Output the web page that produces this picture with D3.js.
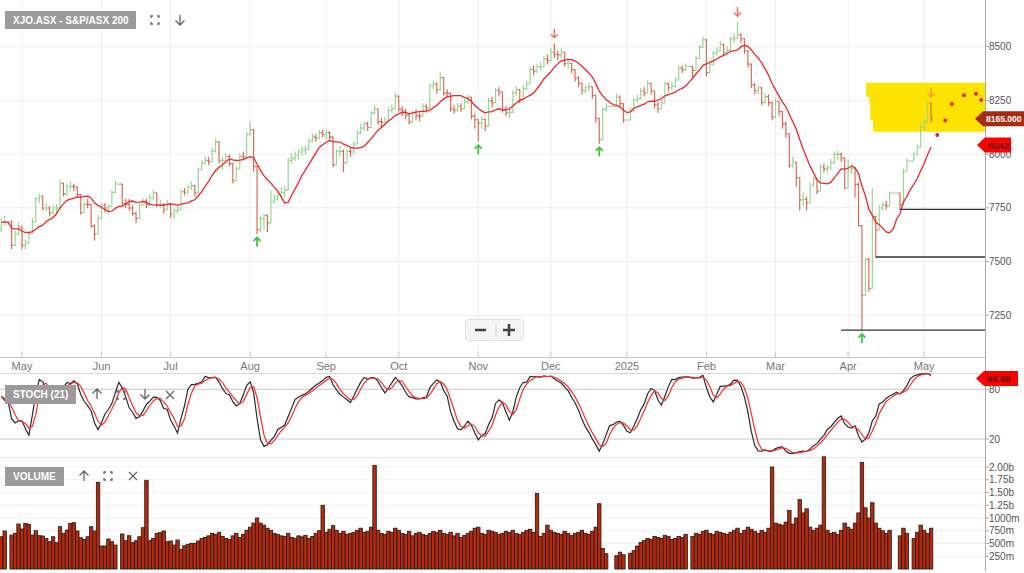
<!DOCTYPE html>
<html><head><meta charset="utf-8">
<script src="https://cdn.jsdelivr.net/npm/d3@7"></script>
<style>
body{margin:0;background:#fff;}
svg{display:block;font-family:"Liberation Sans",Arial,sans-serif;}
</style></head>
<body><svg id="c" width="1024" height="573"></svg>
<script>
// ---------- DATA ----------
const startDate = "2024-04-23", endDate = "2025-05-05";   // weekday slots (holidays shown flat)
const title = "XJO.ASX - S&P/ASX 200";
const close = [
7683,7683,7683,7575,7630,7664,
7575,7587,7629,7684,7793,7804,7749,7749,7726,7750,7750,7864,7814,7848,7851,7847,7812,7728,7766,7765,7665,7628,7702,
7762,7749,7756,7822,7860,7860,7770,7765,7749,7723,7701,7763,7781,7765,7796,7820,7764,7765,7740,7768,
7721,7736,7742,7825,7823,7847,7853,7820,7927,7959,7971,7965,8013,8057,7971,7971,7989,7956,7877,7932,7990,7988,8092,
8114,7943,7649,7700,7715,7680,7780,7792,7811,7822,7832,7971,7980,7996,8010,8018,8023,8060,8080,8075,8100,8092,
8100,8080,7950,8013,8013,7960,8012,8010,8047,8099,8121,8141,8124,8193,8210,8151,8147,8152,8203,8212,8270,
8209,8202,8181,8150,8193,8178,8177,8223,8214,8318,8327,8300,8356,8284,8283,8211,8206,8223,8211,8243,8265,8177,8160,
8144,8161,8130,8248,8240,8296,8289,8206,8192,8193,8285,8300,8253,8306,8327,8394,8386,8406,8407,8444,8436,
8474,8465,8462,8474,8421,8423,8393,8353,8330,8296,8309,8314,8274,8167,8067,8208,8223,8223,8223,8266,8235,8159,
8159,8201,8250,8257,8294,8285,8329,8294,8230,8210,8238,8327,8309,8315,8345,8400,8392,8408,8408,8390,8445,8497,8532,
8379,8416,8470,8480,8511,8474,8482,8536,8540,8555,8537,8481,8419,8322,8296,8308,8240,8268,8240,8172,
8245,8198,8141,8095,7948,7962,7890,7787,7789,7774,7855,7885,7828,7940,7930,7936,7959,7999,7999,7982,7843,
7925,7935,7859,7667,7343,7510,7375,7710,7646,7749,7762,7758,7819,7819,7819,7765,7920,7968,7968,7997,8031,8126,
8150,8238,8165];
const high = [
7700,7710,7683,7690,7640,7680,
7660,7600,7640,7700,7800,7815,7805,7775,7755,7760,7765,7880,7866,7860,7870,7860,7848,7812,7775,7790,7765,7670,7715,
7770,7770,7765,7830,7875,7860,7860,7790,7790,7760,7730,7770,7795,7790,7810,7830,7820,7785,7770,7785,
7770,7745,7760,7835,7840,7855,7870,7855,7935,7970,7990,7985,8025,8070,8057,7985,8000,7995,7956,7940,8000,8010,8100,
8150,8114,7943,7710,7720,7715,7830,7810,7825,7845,7850,7980,8000,8010,8020,8035,8035,8070,8095,8090,8110,8112,
8112,8104,8080,8020,8035,8019,8020,8030,8055,8110,8140,8150,8150,8200,8225,8210,8165,8170,8215,8230,8285,
8270,8220,8210,8185,8200,8205,8190,8235,8230,8325,8340,8330,8380,8356,8300,8283,8225,8235,8235,8255,8275,8265,8185,
8160,8175,8165,8260,8265,8305,8310,8289,8220,8215,8295,8315,8300,8320,8340,8405,8410,8420,8425,8455,8460,
8490,8514,8480,8490,8474,8440,8423,8393,8360,8330,8320,8330,8314,8274,8167,8215,8235,8223,8223,8280,8270,8235,
8159,8215,8260,8275,8305,8310,8340,8329,8294,8240,8250,8335,8330,8335,8355,8410,8410,8420,8408,8408,8455,8505,8545,
8532,8425,8480,8495,8525,8511,8500,8545,8560,8615,8560,8537,8481,8419,8330,8320,8308,8280,8275,8240,
8255,8245,8198,8150,8095,7985,7962,7890,7820,7800,7865,7895,7885,7950,7955,7950,7975,8010,8015,8005,7982,
7973,7950,7935,7865,7667,7515,7515,7840,7710,7760,7775,7780,7825,7819,7819,7819,7930,7980,7968,8010,8045,8135,
8165,8245,8238];
const low = [
7640,7670,7683,7560,7575,7625,
7560,7560,7585,7630,7684,7775,7740,7735,7715,7720,7725,7750,7805,7810,7835,7830,7800,7720,7728,7750,7660,7600,7628,
7702,7730,7725,7756,7820,7860,7760,7750,7740,7715,7680,7701,7760,7750,7760,7790,7755,7750,7725,7740,
7705,7700,7725,7742,7810,7815,7835,7805,7820,7925,7950,7950,7965,8010,7960,7930,7965,7945,7865,7877,7932,7975,7988,
8090,7920,7630,7640,7650,7640,7680,7770,7785,7800,7800,7832,7960,7970,7980,7995,8000,8023,8055,8060,8070,8080,
8070,8060,7941,7950,7990,7918,7960,7990,8000,8047,8095,8110,8110,8124,8185,8140,8125,8135,8150,8195,8212,
8200,8180,8165,8140,8150,8160,8155,8177,8195,8214,8305,8285,8300,8275,8265,8200,8190,8200,8200,8211,8235,8165,8120,
8060,8120,8110,8130,8220,8240,8270,8195,8180,8170,8193,8270,8240,8253,8300,8327,8370,8380,8390,8407,8420,
8436,8450,8440,8450,8410,8400,8380,8340,8315,8280,8285,8295,8260,8150,8050,8067,8200,8223,8223,8223,8225,8150,
8159,8159,8200,8240,8257,8270,8285,8280,8215,8195,8210,8238,8295,8300,8315,8345,8380,8390,8408,8360,8390,8445,8497,
8365,8379,8416,8460,8480,8460,8460,8482,8520,8540,8520,8470,8405,8310,8280,8280,8230,8240,8225,8160,
8172,8180,8120,8080,7940,7935,7850,7740,7760,7740,7774,7850,7815,7828,7915,7915,7930,7959,7975,7965,7840,
7843,7910,7800,7665,7181,7343,7360,7376,7521,7646,7740,7745,7758,7819,7819,7743,7765,7920,7968,7968,7997,8031,
8110,8150,8150];
const volume = [
633,745,0,666,700,882,
784,895,876,666,751,653,647,601,535,633,516,829,700,764,895,908,745,614,581,633,829,745,1700,
451,451,588,535,470,0,686,555,653,522,555,633,810,1740,555,601,700,712,745,535,
549,470,568,385,457,483,503,503,549,600,620,650,700,680,720,640,600,580,650,700,620,680,760,
820,900,1000,900,860,800,760,700,680,650,640,700,620,600,650,630,660,600,640,700,750,1250,
720,780,850,760,700,740,680,700,720,760,800,720,740,820,2030,760,700,680,740,720,800,
760,700,680,740,650,700,720,680,660,700,740,720,760,700,680,720,650,700,620,660,700,740,800,
820,700,680,760,740,720,680,700,740,720,760,700,680,720,760,780,720,1480,640,700,860,
760,720,700,680,740,700,660,700,720,760,700,680,740,820,1280,400,300,0,0,260,330,280,
0,310,360,450,520,560,600,580,640,620,600,660,640,580,600,640,620,680,0,640,700,680,740,
760,700,680,740,720,700,680,720,760,800,700,760,820,780,740,700,760,720,800,2000,
900,880,860,920,1150,880,1000,1360,1100,1180,820,760,800,860,2200,760,700,720,680,760,900,
820,780,900,1100,2090,1200,1000,1300,900,800,750,700,760,0,0,650,800,700,0,600,720,860,
760,700,800];
const priceTicks = [7250, 7500, 7750, 8000, 8250, 8500];
const stochTicks = [20, 80];
const volumeTicks = [250, 500, 750, 1000, 1250, 1500, 1750, 2000];
const maPeriod = 10, stochPeriod = 21;
const upMarks = ["2024-08-05", "2024-11-01", "2024-12-20", "2025-04-07"];
const downMarks = ["2024-12-03", "2025-02-14", "2025-05-05"];
const supportStart = ["2025-03-28", "2025-04-11", "2025-04-22"];
const supportValue = [7181, 7521, 7743];
const forecastOffset = [1.8, 4.1, 6.0, 9.5, 13.0, 14.5];
const forecastValue = [8089, 8156, 8233, 8274, 8281, 8252];
const zoneLeft = [250.2, 251.2, 251.4, 252.2];
const zoneLevels = [8332, 8267, 8238, 8159, 8104];
const tagValues = [8165, 8042], tagLabels = ["8165.000", "8042"];
const stochTagValue = 98.88, stochTagLabel = "98.88";

// ---------- SETUP ----------
const parse = d3.utcParse("%Y-%m-%d"), fmt = d3.utcFormat("%Y-%m-%d");
const dates = [];
for (let d = parse(startDate); d <= parse(endDate); d = d3.utcDay.offset(d, 1)) {
  const w = d.getUTCDay(); if (w > 0 && w < 6) dates.push(d);
}
const idxOf = s => dates.findIndex(d => fmt(d) === s);
const n = dates.length;
const open = close.map((c, i) => i === 0 ? 7650 : close[i - 1]);

const svg = d3.select("#c");
const plotR = 985;
const x = d3.scaleLinear().domain([-0.365, 284.6]).range([0, plotR]);
const y = d3.scaleLinear().domain([7055.5, 8717.4]).range([357, 0]);
const yS = d3.scaleLinear().domain([0, 100]).range([455.6, 372.7]);
const yV = d3.scaleLinear().domain([0, 2000]).range([569, 467]);
const step = x(1) - x(0);

const sma = (a, p) => a.map((_, i) => d3.mean(a.slice(Math.max(0, i - p + 1), i + 1)));
const ma = sma(close, maPeriod);
const fastK = close.map((c, i) => {
  const s = Math.max(0, i - stochPeriod + 1);
  const hh = d3.max(high.slice(s, i + 1)), ll = d3.min(low.slice(s, i + 1));
  return hh === ll ? 50 : 100 * (c - ll) / (hh - ll);
});
const kLine = sma(fastK, 3), dLine = sma(kLine, 3);

const monthTicks = [];
dates.forEach((d, i) => { if (i > 0 && d.getUTCMonth() !== dates[i - 1].getUTCMonth()) monthTicks.push(i); });
const monthLabel = i => dates[i].getUTCMonth() === 0 ? d3.utcFormat("%Y")(dates[i]) : d3.utcFormat("%b")(dates[i]);

const defs = svg.append("defs");
defs.append("clipPath").attr("id", "mainClip").append("rect").attr("x", 0).attr("y", 0).attr("width", plotR).attr("height", 357);

// ---------- GRID ----------
const grid = svg.append("g");
grid.selectAll(".vg").data(monthTicks).join("line")
  .attr("x1", d => x(d)).attr("x2", d => x(d)).attr("y1", 0).attr("y2", 357)
  .attr("stroke", "#ededed").attr("stroke-width", 1);
grid.selectAll(".hg").data(priceTicks).join("line")
  .attr("x1", 0).attr("x2", plotR).attr("y1", d => y(d)).attr("y2", d => y(d))
  .attr("stroke", "#ededed");
grid.selectAll(".sg").data(stochTicks).join("line")
  .attr("x1", 0).attr("x2", plotR).attr("y1", d => yS(d)).attr("y2", d => yS(d))
  .attr("stroke", "#c8c8c8");
grid.selectAll(".vog").data(volumeTicks).join("line")
  .attr("x1", 0).attr("x2", plotR).attr("y1", d => yV(d)).attr("y2", d => yV(d))
  .attr("stroke", "#f0f0f0");

svg.append("line").attr("x1", 0).attr("x2", plotR).attr("y1", 357.5).attr("y2", 357.5).attr("stroke", "#c8c8c8");
svg.append("line").attr("x1", 0).attr("x2", plotR).attr("y1", 373.5).attr("y2", 373.5).attr("stroke", "#d8d8d8");
svg.append("line").attr("x1", 0).attr("x2", plotR).attr("y1", 457.5).attr("y2", 457.5).attr("stroke", "#e4e4e4");
svg.append("line").attr("x1", plotR + 0.5).attr("x2", plotR + 0.5).attr("y1", 0).attr("y2", 571).attr("stroke", "#aaa");

// ---------- MAIN PANEL ----------
const main = svg.append("g").attr("clip-path", "url(#mainClip)");

const xr = x.domain()[1] + 1;
const zonePts = [
  [zoneLeft[0], zoneLevels[0]], [xr, zoneLevels[0]], [xr, zoneLevels[4]],
  [zoneLeft[3], zoneLevels[4]], [zoneLeft[3], zoneLevels[3]], [zoneLeft[2], zoneLevels[3]],
  [zoneLeft[2], zoneLevels[2]], [zoneLeft[1], zoneLevels[2]], [zoneLeft[1], zoneLevels[1]],
  [zoneLeft[0], zoneLevels[1]]];
main.append("path").attr("d", d3.line().x(d => x(d[0])).y(d => y(d[1]))(zonePts) + "Z")
  .attr("fill", "#ffe300");

const bars = d3.range(n);
main.append("g").selectAll("path").data(bars).join("path")
  .attr("d", i => {
    const cx = x(i);
    return `M${cx},${y(high[i]) - 0.5}V${y(low[i]) + 0.5}M${cx - 1.7},${y(open[i])}H${cx}M${cx},${y(close[i])}H${cx + 1.7}`;
  })
  .attr("fill", "none")
  .attr("stroke", i => close[i] >= open[i] ? "#97d48f" : "#d9674f")
  .attr("stroke-width", 1.15);

main.append("path").datum(ma)
  .attr("d", d3.line().x((d, i) => x(i)).y(d => y(d)))
  .attr("fill", "none").attr("stroke", "#f2262a").attr("stroke-width", 1.3);

supportStart.forEach((s, k) => {
  main.append("line").attr("x1", x(idxOf(s))).attr("x2", plotR)
    .attr("y1", y(supportValue[k])).attr("y2", y(supportValue[k]))
    .attr("stroke", "#333").attr("stroke-width", 1.3);
});

main.selectAll(".fd").data(forecastValue).join("circle")
  .attr("cx", (d, k) => x(n - 1 + forecastOffset[k])).attr("cy", d => y(d)).attr("r", 2)
  .attr("fill", "#e8261a");

upMarks.forEach(s => {
  const i = idxOf(s), cx = x(i), ty = y(low[i]) + 4;
  main.append("path").attr("d", `M${cx},${ty}V${ty + 9}M${cx - 3.5},${ty + 3.5}L${cx},${ty}L${cx + 3.5},${ty + 3.5}`)
    .attr("fill", "none").attr("stroke", "#3ec73e").attr("stroke-width", 1.8);
});
main.append("path").attr("d", (() => { const cx = x(-1.6), ty = y(7540); return `M${cx},${ty}V${ty + 9}M${cx - 3.5},${ty + 3.5}L${cx},${ty}L${cx + 3.5},${ty + 3.5}`; })())
  .attr("fill", "none").attr("stroke", "#3ec73e").attr("stroke-width", 1.8);
downMarks.forEach(s => {
  const i = idxOf(s), cx = x(i), by = y(high[i]) - 6;
  main.append("path").attr("d", `M${cx},${by}V${by - 9}M${cx - 3.5},${by - 3.5}L${cx},${by}L${cx + 3.5},${by - 3.5}`)
    .attr("fill", "none").attr("stroke", i === n - 1 ? "#f29a4a" : "#ef7b6c").attr("stroke-width", 1.6);
});

svg.append("g").selectAll("text").data(monthTicks).join("text")
  .attr("x", d => x(d)).attr("y", 370).attr("text-anchor", "middle")
  .attr("font-size", 11).attr("fill", "#777").text(d => monthLabel(d));
svg.append("g").selectAll("line").data(monthTicks).join("line")
  .attr("x1", d => x(d)).attr("x2", d => x(d)).attr("y1", 352).attr("y2", 357)
  .attr("stroke", "#c8c8c8");

function rightAxis(ticks, sc, f) {
  const g = svg.append("g");
  g.selectAll("line").data(ticks).join("line")
    .attr("x1", plotR).attr("x2", plotR + 4).attr("y1", d => sc(d)).attr("y2", d => sc(d)).attr("stroke", "#aaa");
  g.selectAll("text").data(ticks).join("text")
    .attr("x", plotR + 4).attr("y", d => sc(d)).attr("dy", "0.35em")
    .attr("font-size", 10).attr("fill", "#555").text(f);
}
rightAxis(priceTicks, y, d => d);
rightAxis(stochTicks, yS, d => d);
rightAxis(volumeTicks, yV, d => d >= 1250 ? (d / 1000).toFixed(2) + "b" : d + "m");

// ---------- STOCH PANEL ----------
const sl = d3.line().x((d, i) => x(i)).y(d => yS(d));
svg.append("path").datum(kLine).attr("d", sl).attr("fill", "none").attr("stroke", "#2a2a2a").attr("stroke-width", 1.2);
svg.append("path").datum(dLine).attr("d", sl).attr("fill", "none").attr("stroke", "#ff2a2a").attr("stroke-width", 1.2);

// ---------- VOLUME PANEL ----------
svg.append("g").selectAll("rect").data(bars.filter(i => volume[i] > 0)).join("rect")
  .attr("x", i => x(i) - step / 2).attr("width", step)
  .attr("y", i => yV(volume[i])).attr("height", i => yV(0) - yV(volume[i]))
  .attr("fill", "#b8290b").attr("stroke", "#1c1c1c").attr("stroke-width", 0.8);

// ---------- TAGS ----------
function tag(cy, label, fill, color, tipX, right, bold, fs) {
  const h = 7.5;
  svg.append("path").attr("d", `M${tipX},${cy}L${tipX + 8},${cy - h}H${right}V${cy + h}H${tipX + 8}Z`).attr("fill", fill);
  svg.append("text").attr("x", tipX + 11).attr("y", cy).attr("dy", "0.36em").attr("font-size", fs)
    .attr("font-weight", bold ? "bold" : "normal").attr("fill", color).text(label);
}
tag(y(tagValues[0]), tagLabels[0], "#a82b0e", "#fff", 975, 1024, true, 8.5);
tag(y(tagValues[1]), tagLabels[1], "#ff0000", "#111", 977, 1011, false, 9.5);
tag(Math.max(yS(stochTagValue), 378.5), stochTagLabel, "#ff0000", "#111", 976, 1018, false, 9.5);

// ---------- CHROME ----------
function labelBox(x0, y0, w, h, txt) {
  svg.append("rect").attr("x", x0).attr("y", y0).attr("width", w).attr("height", h).attr("fill", "#9b9b9b");
  svg.append("text").attr("x", x0 + 8).attr("y", y0 + h / 2).attr("dy", "0.36em").attr("font-size", 10)
    .attr("font-weight", "bold").attr("fill", "#fff").text(txt);
}
labelBox(5, 11, 131, 18, title);
labelBox(5, 385, 71, 19, "STOCH (21)");
labelBox(5, 467, 59, 19, "VOLUME");

const icon = (d) => svg.append("path").attr("d", d).attr("fill", "none").attr("stroke", "#666").attr("stroke-width", 1.3);
const full = (cx, cy) => icon(`M${cx-4},${cy-2}V${cy-4}H${cx-2}M${cx+2},${cy-4}H${cx+4}V${cy-2}M${cx+4},${cy+2}V${cy+4}H${cx+2}M${cx-2},${cy+4}H${cx-4}V${cy+2}`);
const dn = (cx, cy) => icon(`M${cx},${cy-5}V${cy+5}M${cx-4.5},${cy+0.5}L${cx},${cy+5}L${cx+4.5},${cy+0.5}`);
const up = (cx, cy) => icon(`M${cx},${cy+5}V${cy-5}M${cx-4.5},${cy-0.5}L${cx},${cy-5}L${cx+4.5},${cy-0.5}`);
const cross = (cx, cy) => icon(`M${cx-4},${cy-4}L${cx+4},${cy+4}M${cx+4},${cy-4}L${cx-4},${cy+4}`);
full(155, 20); dn(180, 20);
up(97, 394); full(121, 395); dn(145, 394); cross(170, 395);
up(84, 476); full(108, 476); cross(133, 476);

svg.append("rect").attr("x", 465.5).attr("y", 319.5).attr("width", 58).attr("height", 21).attr("rx", 3)
  .attr("fill", "#f5f5f5").attr("stroke", "#e0e0e0");
svg.append("line").attr("x1", 496).attr("x2", 496).attr("y1", 323).attr("y2", 337).attr("stroke", "#d0d0d0");
svg.append("path").attr("d", "M475,330H486M503,330H515M509,324V336").attr("stroke", "#444").attr("stroke-width", 2.6);
</script></body></html>
